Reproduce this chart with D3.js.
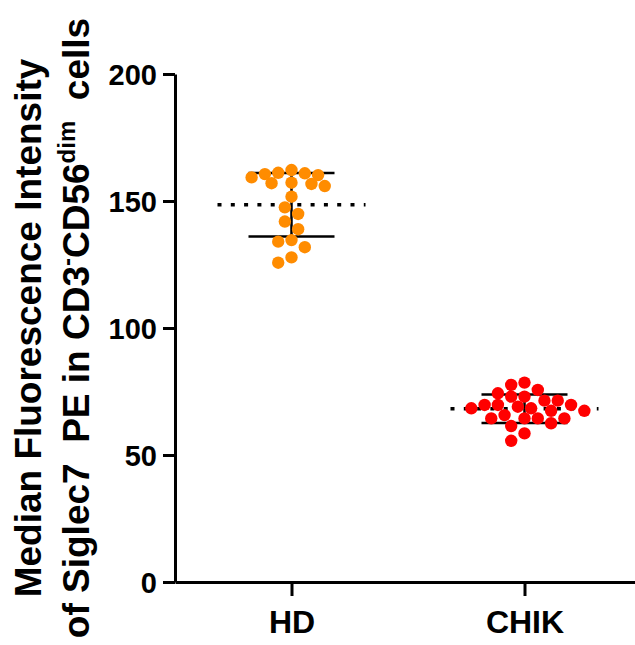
<!DOCTYPE html>
<html>
<head>
<meta charset="utf-8">
<script src="https://cdn.jsdelivr.net/npm/d3@7"></script>
<style>
  body { margin: 0; background: #fff; }
  text { font-family: "Liberation Sans", Arial, sans-serif; font-weight: bold; fill: #000; }
</style>
</head>
<body>
<div id="scatter"></div>
<script>
// groups on the x axis
var groups = ["HD", "CHIK"];
var groupColors = ["#ff8c00", "#ff0000"];

// values (MFI)
var hdValues = [162.2, 161.1, 160.9, 160.6, 160.2, 159.3, 157.2, 157.0, 156.7, 155.9,
  151.7, 147.5, 144.9, 141.9, 138.9, 134.6, 134.0, 131.8, 127.8, 125.7];
var chikValues = [78.5, 77.6, 75.6, 74.3, 73.0, 73.0, 71.4, 71.4, 69.7, 69.7, 69.7, 69.0,
  68.4, 68.4, 67.4, 67.4, 65.7, 64.4, 64.4, 64.4, 64.4, 62.5, 61.4, 58.5, 55.6];

var yTicks = [0, 50, 100, 150, 200];

var width = 635;
var height = 645;
var circRadius = 6.2;

var svg = d3
  .select("#scatter")
  .append("svg")
  .attr("width", width)
  .attr("height", height);

// scales
var xScale = d3.scalePoint()
  .domain(groups)
  .range([175, 641])
  .padding(0.5);

var yScale = d3.scaleLinear()
  .domain([0, 200])
  .range([582, 74]);

// y axis
var yAxis = svg.append("g")
  .attr("transform", "translate(175,0)")
  .call(d3.axisLeft(yScale).tickValues(yTicks).tickSize(12).tickSizeOuter(0).tickPadding(6));

// x axis
var xAxis = svg.append("g")
  .attr("transform", "translate(0,582)")
  .call(d3.axisBottom(xScale).tickSize(14).tickSizeOuter(0).tickPadding(10));

svg.selectAll(".domain, .tick line")
  .attr("stroke", "#000")
  .attr("stroke-width", 3);

yAxis.selectAll("text").style("font-size", "29px").attr("dy", "0.36em");
xAxis.selectAll("text").style("font-size", "32px").attr("dy", "0.84em");

// y title, two centred lines
var yTitle = svg.append("g")
  .attr("transform", "translate(0," + ((yScale(0) + yScale(200)) / 2) + ") rotate(-90)");

yTitle.append("text")
  .attr("x", 0)
  .attr("y", 41)
  .attr("text-anchor", "middle")
  .style("font-size", "37px")
  .text("Median Fluorescence Intensity");

var line2 = yTitle.append("text")
  .attr("x", 0)
  .attr("y", 89)
  .attr("text-anchor", "middle")
  .style("font-size", "37px")
  .style("white-space", "pre");
line2.append("tspan").text("of Siglec7  PE in CD3");
line2.append("tspan").attr("dy", -14).style("font-size", "24px").text("-");
line2.append("tspan").attr("dy", 14).text("CD56");
line2.append("tspan").attr("dy", -14).style("font-size", "24px").text("dim");
line2.append("tspan").attr("dy", 14).text("  cells");

// simple beeswarm: put each dot as close to the centre as it fits
function swarm(values, cx) {
  var step = 6.65;
  var minDist = 11;
  var placed = [];
  values.forEach(function(v) {
    var y = yScale(v);
    for (var k = 0; k < 40; k++) {
      var off = (k % 2 === 0 ? 1 : -1) * Math.ceil(k / 2) * step;
      var x = cx + off;
      var hit = placed.some(function(p) {
        return Math.hypot(p.x - x, p.y - y) < minDist;
      });
      if (!hit) {
        placed.push({ x: x, y: y, v: v });
        break;
      }
    }
  });
  return placed;
}

[hdValues, chikValues].forEach(function(vals, i) {
  var cx = xScale(groups[i]);
  var mean = d3.mean(vals);
  var sd = d3.deviation(vals);

  // mean line (dotted)
  svg.append("line")
    .attr("x1", cx - 74).attr("x2", cx + 74)
    .attr("y1", yScale(mean)).attr("y2", yScale(mean))
    .attr("stroke", "#000")
    .attr("stroke-width", 3.5)
    .attr("stroke-dasharray", "4,9.3");

  // sd whiskers
  [mean - sd, mean + sd].forEach(function(m) {
    svg.append("line")
      .attr("x1", cx - 43).attr("x2", cx + 43)
      .attr("y1", yScale(m)).attr("y2", yScale(m))
      .attr("stroke", "#000")
      .attr("stroke-width", 2.5);
  });
  svg.append("line")
    .attr("x1", cx).attr("x2", cx)
    .attr("y1", yScale(mean - sd)).attr("y2", yScale(mean + sd))
    .attr("stroke", "#000")
    .attr("stroke-width", 2.5);

  // the dots
  svg.selectAll(null)
    .data(swarm(vals, cx))
    .enter()
    .append("circle")
    .attr("cx", function(d) { return d.x; })
    .attr("cy", function(d) { return d.y; })
    .attr("r", circRadius)
    .attr("fill", groupColors[i]);
});
</script>
</body>
</html>
